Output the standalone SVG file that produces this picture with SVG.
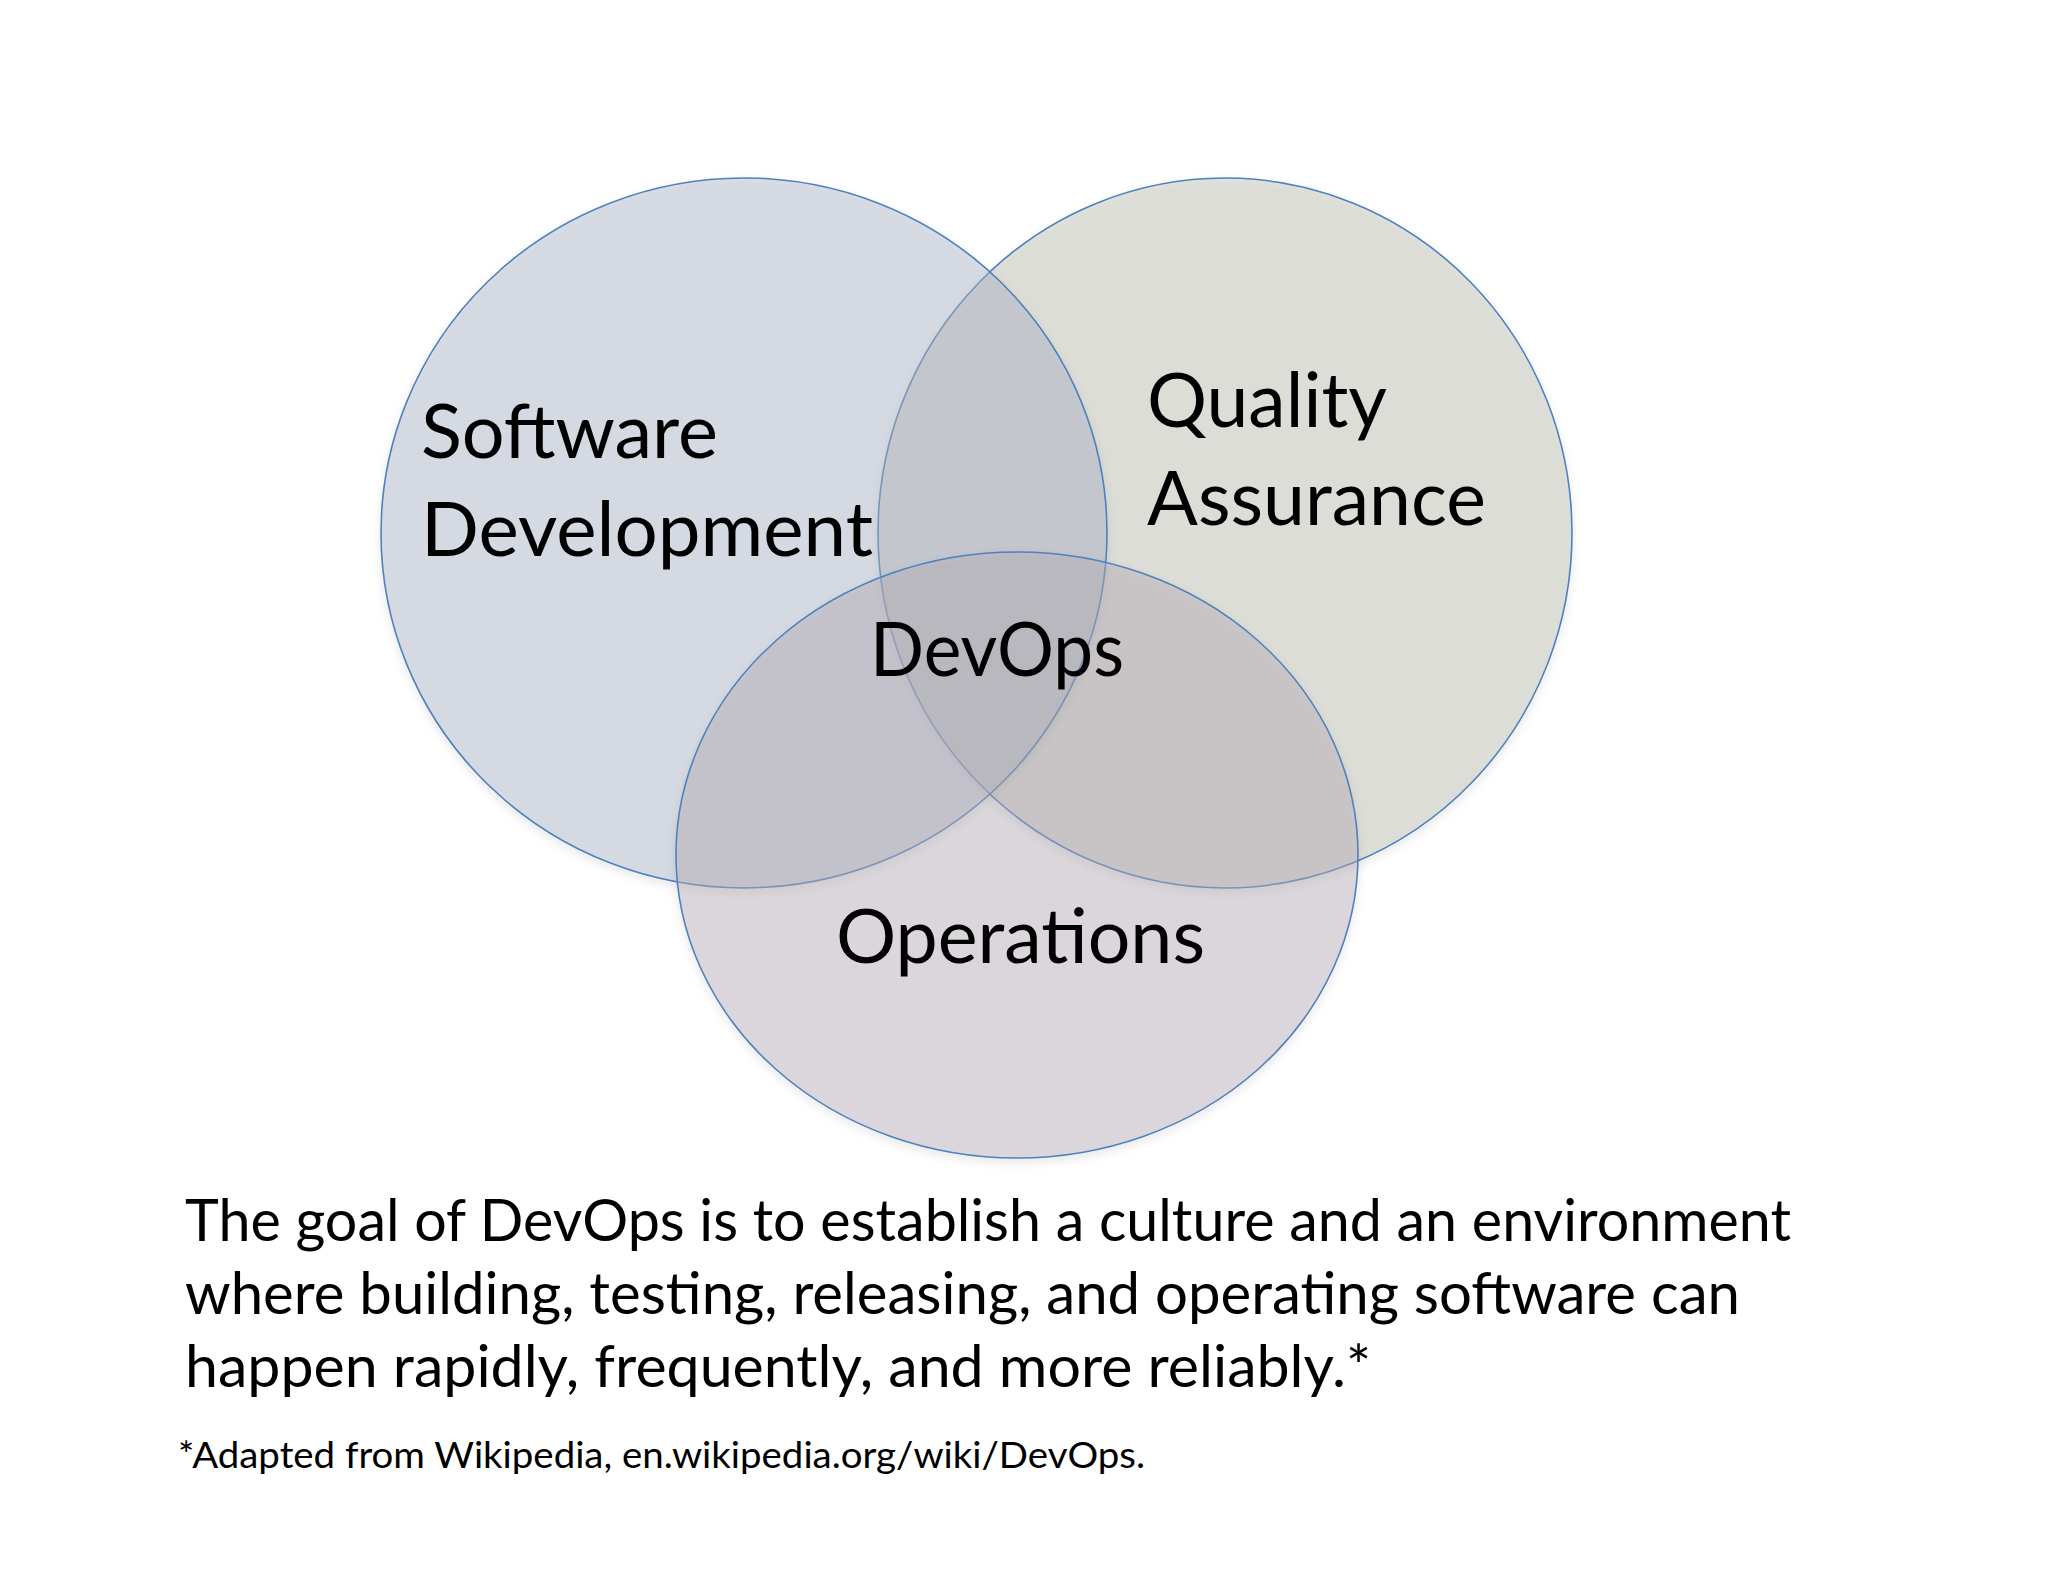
<svg xmlns="http://www.w3.org/2000/svg" width="2048" height="1582" viewBox="0 0 2048 1582">
<style>
.c{stroke:#4f81bd;stroke-width:1.6;fill-opacity:0.42}
.lbl{font-family:Lato,"Open Sans","Liberation Sans",sans-serif;font-size:76px;fill:#000}
.body{font-family:Lato,"Open Sans","Liberation Sans",sans-serif;font-size:58px;fill:#000}
.note{font-family:Lato,"Open Sans","Liberation Sans",sans-serif;font-size:37px;fill:#000}
</style>
<defs>
<filter id="sh" x="-10%" y="-10%" width="120%" height="125%">
<feDropShadow dx="0" dy="4" stdDeviation="4" flood-color="#000" flood-opacity="0.16"/>
</filter>
</defs>
<rect width="2048" height="1582" fill="#fff"/>
<g id="qa">
<ellipse class="c" cx="1225" cy="533" rx="347" ry="355" fill="#bcbcb0" filter="url(#sh)"/>
<text class="lbl" x="1147" y="427" textLength="240" lengthAdjust="spacingAndGlyphs">Quality</text>
<text class="lbl" x="1147" y="525" textLength="339" lengthAdjust="spacingAndGlyphs">Assurance</text>
</g>
<g id="sd">
<ellipse class="c" cx="744" cy="533" rx="363" ry="355" fill="#aab3c6" filter="url(#sh)"/>
<text class="lbl" x="421" y="458" textLength="297" lengthAdjust="spacingAndGlyphs">Software</text>
<text class="lbl" x="421" y="556" textLength="452" lengthAdjust="spacingAndGlyphs">Development</text>
</g>
<g id="ops">
<ellipse class="c" cx="1017" cy="855" rx="341" ry="303" fill="#b6aeb8" filter="url(#sh)"/>
<text class="lbl" x="836" y="963" textLength="369" lengthAdjust="spacingAndGlyphs">Operations</text>
</g>
<g id="devops">
<text class="lbl" x="870" y="676" textLength="254" lengthAdjust="spacingAndGlyphs">DevOps</text>
</g>
<g id="connectors"></g>
<g id="caption">
<text class="body" x="185" y="1241" textLength="1606" lengthAdjust="spacingAndGlyphs">The goal of DevOps is to establish a culture and an environment</text>
<text class="body" x="185" y="1314" textLength="1555" lengthAdjust="spacingAndGlyphs">where building, testing, releasing, and operating software can</text>
<text class="body" x="185" y="1387" textLength="1186" lengthAdjust="spacingAndGlyphs">happen rapidly, frequently, and more reliably.*</text>
<text class="note" x="178" y="1468" textLength="967" lengthAdjust="spacingAndGlyphs">*Adapted from Wikipedia, en.wikipedia.org/wiki/DevOps.</text>
</g>
</svg>
